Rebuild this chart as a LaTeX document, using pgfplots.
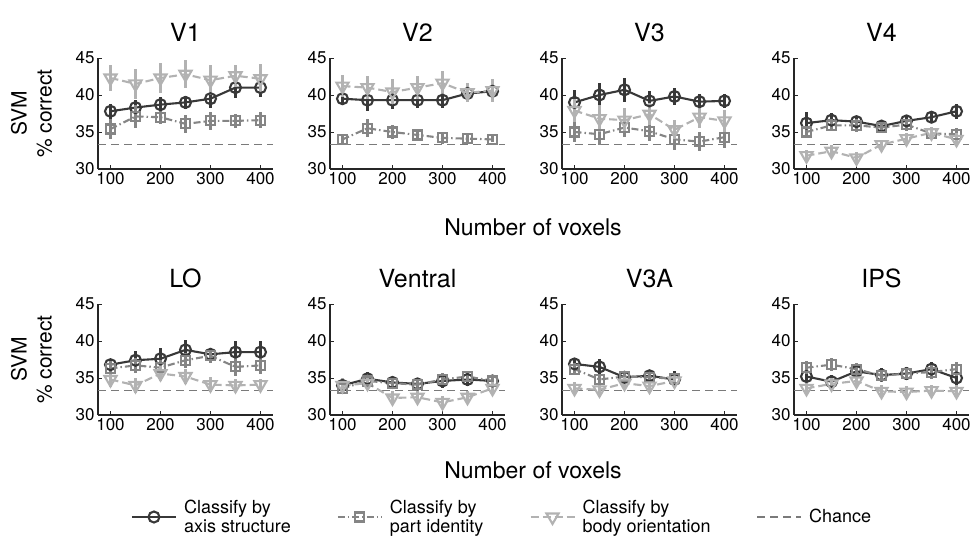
\documentclass[border=0pt]{standalone}
\usepackage{pgfplots}
\pgfplotsset{compat=1.18}
\usepackage{fontspec}
\setmainfont{TeX Gyre Heros}

\definecolor{cAxis}{HTML}{383838}
\definecolor{cPart}{HTML}{858585}
\definecolor{cBody}{HTML}{B2B2B2}
\definecolor{cChance}{HTML}{7A7A7A}

\pgfplotsset{
  panel/.style={
    width=175pt, height=111pt, scale only axis, anchor=south west,
    xmin=75, xmax=425, ymin=30, ymax=45,
    xtick={100,200,300,400}, ytick={30,35,40,45},
    axis lines=left, axis line style={-, line width=1.1pt, black!85},
    tick align=inside, major tick length=4pt,
    tick style={black!85, line width=0.9pt},
    ticklabel style={font=\fontsize{17}{17}\selectfont},
    /pgf/number format/assume math mode=true,
    title style={font=\fontsize{25}{25}\selectfont, yshift=7pt},
    clip=false,
  },
  svm/.style={ylabel={SVM\\\% correct},
    ylabel style={at={(axis description cs:-0.38,0.5)}, anchor=center,
      align=center, font=\fontsize{21}{25}\selectfont}},
  lAxis/.style={color=cAxis, solid, line width=2.1pt, mark=o, mark size=5.5pt,
    mark options={solid}},
  lPart/.style={color=cPart, line width=2.1pt,
    dash pattern=on 7pt off 3pt on 1.5pt off 3pt,
    mark=square, mark size=4.5pt, mark options={solid}},
  lBody/.style={color=cBody, line width=2.1pt, dash pattern=on 8pt off 4pt,
    mark=triangle, mark size=7pt, mark options={solid, rotate=180}},
  lChance/.style={color=cChance, line width=1.4pt, dash pattern=on 8pt off 5pt},
  eb/.style={error bars/y dir=both, error bars/y explicit,
    error bars/error mark=none,
    error bars/error bar style={line width=2.1pt, solid}},
  sAxis/.style={lAxis, eb},
  sPart/.style={lPart, eb},
  sBody/.style={lBody, eb},
}

\begin{document}
\begin{tikzpicture}
\useasboundingbox (0pt,0pt) rectangle (972pt,536pt);

% ---- top row
\begin{axis}[panel, svm, at={(98pt,367pt)}, title={V1}]
\addplot[lChance, forget plot] coordinates {(75,33.333) (425,33.333)};
\addplot[sAxis] coordinates {(100,37.8) +- (0,1.0) (150,38.3) +- (0,1.0) (200,38.7) +- (0,1.0) (250,39.0) +- (0,0.9) (300,39.5) +- (0,1.3) (350,41.0) +- (0,1.4) (400,41.0) +- (0,1.3)};
\addplot[sPart] coordinates {(100,35.4) +- (0,1.3) (150,37.1) +- (0,1.5) (200,37.0) +- (0,0.9) (250,36.1) +- (0,1.2) (300,36.5) +- (0,1.2) (350,36.5) +- (0,0.9) (400,36.6) +- (0,1.1)};
\addplot[sBody] coordinates {(100,42.3) +- (0,1.8) (150,41.5) +- (0,2.0) (200,42.3) +- (0,2.0) (250,42.8) +- (0,1.9) (300,42.0) +- (0,2.0) (350,42.6) +- (0,1.5) (400,42.2) +- (0,2.0)};
\end{axis}

\begin{axis}[panel, at={(330pt,367pt)}, title={V2}]
\addplot[lChance, forget plot] coordinates {(75,33.333) (425,33.333)};
\addplot[sAxis] coordinates {(100,39.5) +- (0,0.9) (150,39.3) +- (0,1.4) (200,39.3) +- (0,1.2) (250,39.3) +- (0,1.0) (300,39.3) +- (0,1.0) (350,40.2) +- (0,1.0) (400,40.5) +- (0,1.1)};
\addplot[sPart] coordinates {(100,34.0) +- (0,0.5) (150,35.5) +- (0,1.2) (200,35.0) +- (0,0.9) (250,34.6) +- (0,0.8) (300,34.2) +- (0,0.8) (350,34.1) +- (0,0.5) (400,34.0) +- (0,0.4)};
\addplot[sBody] coordinates {(100,41.2) +- (0,1.5) (150,41.0) +- (0,1.6) (200,40.4) +- (0,1.7) (250,41.0) +- (0,1.6) (300,41.6) +- (0,1.6) (350,40.3) +- (0,1.3) (400,40.6) +- (0,1.6)};
\end{axis}

\begin{axis}[panel, at={(562pt,367pt)}, title={V3}]
\addplot[lChance, forget plot] coordinates {(75,33.333) (425,33.333)};
\addplot[sAxis] coordinates {(100,39.0) +- (0,1.7) (150,40.0) +- (0,1.6) (200,40.7) +- (0,1.6) (250,39.2) +- (0,1.4) (300,39.8) +- (0,1.2) (350,39.1) +- (0,1.0) (400,39.2) +- (0,1.0)};
\addplot[sPart] coordinates {(100,35.0) +- (0,1.3) (150,34.7) +- (0,1.5) (200,35.6) +- (0,1.3) (250,35.1) +- (0,1.3) (300,34.0) +- (0,1.5) (350,33.7) +- (0,1.3) (400,34.3) +- (0,1.5)};
\addplot[sBody] coordinates {(100,37.9) +- (0,1.5) (150,36.8) +- (0,1.8) (200,36.6) +- (0,1.6) (250,37.4) +- (0,1.5) (300,35.3) +- (0,1.3) (350,37.0) +- (0,1.5) (400,36.5) +- (0,1.5)};
\end{axis}

\begin{axis}[panel, at={(794pt,367pt)}, title={V4}]
\addplot[lChance, forget plot] coordinates {(75,33.333) (425,33.333)};
\addplot[sAxis] coordinates {(100,36.2) +- (0,1.5) (150,36.6) +- (0,0.9) (200,36.4) +- (0,0.8) (250,35.8) +- (0,0.8) (300,36.5) +- (0,0.8) (350,37.0) +- (0,0.8) (400,37.8) +- (0,1.0)};
\addplot[sPart] coordinates {(100,35.0) +- (0,0.8) (150,35.9) +- (0,0.8) (200,35.9) +- (0,0.9) (250,35.6) +- (0,0.7) (300,36.0) +- (0,0.8) (350,34.8) +- (0,0.8) (400,34.7) +- (0,0.8)};
\addplot[sBody] coordinates {(100,31.8) +- (0,0.8) (150,32.4) +- (0,0.8) (200,31.5) +- (0,0.8) (250,33.3) +- (0,0.6) (300,34.1) +- (0,0.8) (350,34.9) +- (0,0.8) (400,34.0) +- (0,0.8)};
\end{axis}

% ---- bottom row
\begin{axis}[panel, svm, at={(98pt,121pt)}, title={LO}]
\addplot[lChance, forget plot] coordinates {(75,33.333) (425,33.333)};
\addplot[sAxis] coordinates {(100,36.8) +- (0,0.8) (150,37.4) +- (0,1.2) (200,37.6) +- (0,1.5) (250,38.8) +- (0,1.3) (300,38.2) +- (0,0.8) (350,38.5) +- (0,1.5) (400,38.5) +- (0,1.5)};
\addplot[sPart] coordinates {(100,36.3) +- (0,1.0) (150,36.7) +- (0,1.0) (200,36.4) +- (0,1.0) (250,37.4) +- (0,1.0) (300,38.0) +- (0,1.0) (350,36.5) +- (0,1.2) (400,36.7) +- (0,1.2)};
\addplot[sBody] coordinates {(100,34.8) +- (0,1.0) (150,34.0) +- (0,1.0) (200,35.6) +- (0,1.0) (250,35.2) +- (0,1.0) (300,34.1) +- (0,1.0) (350,34.0) +- (0,0.9) (400,34.1) +- (0,0.8)};
\end{axis}

\begin{axis}[panel, at={(330pt,121pt)}, title={Ventral}]
\addplot[lChance, forget plot] coordinates {(75,33.333) (425,33.333)};
\addplot[sAxis] coordinates {(100,34.0) +- (0,0.9) (150,34.9) +- (0,0.9) (200,34.4) +- (0,0.8) (250,34.2) +- (0,0.8) (300,34.6) +- (0,0.9) (350,34.8) +- (0,0.9) (400,34.6) +- (0,0.8)};
\addplot[sPart] coordinates {(100,33.6) +- (0,0.8) (150,34.6) +- (0,0.9) (200,34.3) +- (0,0.8) (250,34.1) +- (0,0.8) (300,34.8) +- (0,0.9) (350,35.2) +- (0,0.8) (400,34.6) +- (0,0.8)};
\addplot[sBody] coordinates {(100,34.0) +- (0,1.0) (150,34.3) +- (0,0.9) (200,32.3) +- (0,0.9) (250,32.4) +- (0,0.9) (300,31.7) +- (0,0.9) (350,32.4) +- (0,0.8) (400,33.6) +- (0,0.8)};
\end{axis}

\begin{axis}[panel, at={(562pt,121pt)}, title={V3A}]
\addplot[lChance, forget plot] coordinates {(75,33.333) (425,33.333)};
\addplot[sAxis] coordinates {(100,36.9) +- (0,0.8) (150,36.5) +- (0,1.0) (200,35.1) +- (0,0.8) (250,35.3) +- (0,0.8) (300,34.8) +- (0,1.2)};
\addplot[sPart] coordinates {(100,36.2) +- (0,0.8) (150,34.8) +- (0,0.8) (200,35.2) +- (0,0.8) (250,35.1) +- (0,0.8) (300,34.9) +- (0,0.8)};
\addplot[sBody] coordinates {(100,33.6) +- (0,0.8) (150,33.4) +- (0,0.9) (200,34.3) +- (0,0.8) (250,33.9) +- (0,0.8) (300,34.6) +- (0,0.8)};
\end{axis}

\begin{axis}[panel, at={(794pt,121pt)}, title={IPS}]
\addplot[lChance, forget plot] coordinates {(75,33.333) (425,33.333)};
\addplot[sAxis] coordinates {(100,35.2) +- (0,0.9) (150,34.5) +- (0,0.9) (200,35.9) +- (0,0.9) (250,35.4) +- (0,0.9) (300,35.6) +- (0,0.9) (350,36.2) +- (0,0.9) (400,35.0) +- (0,0.9)};
\addplot[sPart] coordinates {(100,36.4) +- (0,0.9) (150,36.8) +- (0,0.9) (200,36.2) +- (0,0.8) (250,35.3) +- (0,0.8) (300,35.6) +- (0,0.8) (350,35.8) +- (0,0.9) (400,36.2) +- (0,0.9)};
\addplot[sBody] coordinates {(100,33.6) +- (0,0.8) (150,34.2) +- (0,0.8) (200,34.6) +- (0,0.8) (250,33.2) +- (0,0.8) (300,33.1) +- (0,0.8) (350,33.3) +- (0,0.8) (400,33.2) +- (0,0.8)};
\end{axis}

% shared x labels
\node[font=\fontsize{23}{23}\selectfont] at (533pt,309pt) {Number of voxels};
\node[font=\fontsize{23}{23}\selectfont] at (533pt,66pt) {Number of voxels};

% legend
\begin{axis}[at={(502pt,19pt)}, anchor=center, hide axis,
  width=10pt, height=10pt, scale only axis,
  xmin=0, xmax=1, ymin=0, ymax=1,
  legend columns=4,
  legend style={at={(0.5,0.5)}, anchor=center, draw=none, fill=none,
    font=\fontsize{18}{19}\selectfont, cells={align=left},
    /tikz/every odd column/.append style={column sep=5pt},
    /tikz/every even column/.append style={column sep=44pt}},
  legend image code/.code={\draw[mark repeat=2, mark phase=2, #1]
    plot coordinates {(0pt,0pt) (22pt,0pt) (44pt,0pt)};}]
\addlegendimage{lAxis}
\addlegendentry{Classify by\\axis structure}
\addlegendimage{lPart}
\addlegendentry{Classify by\\part identity}
\addlegendimage{lBody}
\addlegendentry{Classify by\\body orientation}
\addlegendimage{lChance}
\addlegendentry{Chance}
\end{axis}
\end{tikzpicture}
\end{document}
